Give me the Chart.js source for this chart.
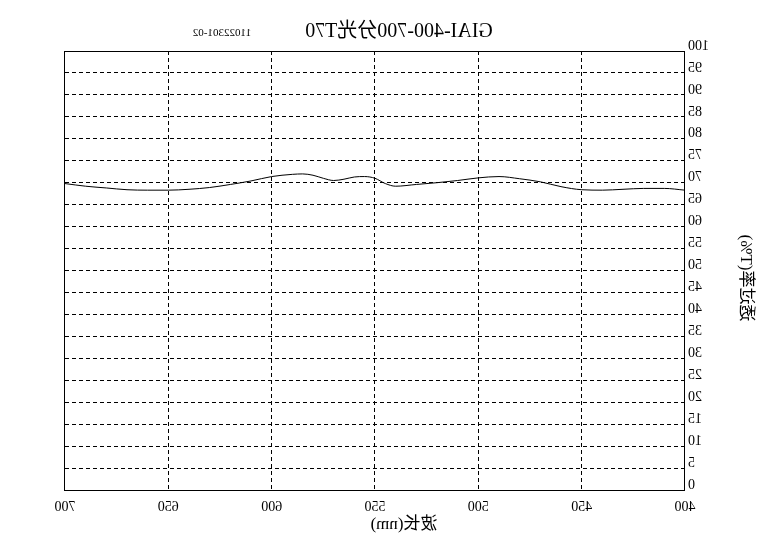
<!DOCTYPE html>
<html>
<head>
<meta charset="utf-8">
<script src="https://cdn.jsdelivr.net/npm/chart.js@4"></script>
<style>
  html, body { margin: 0; padding: 0; background: #fff; }
  #wrap { position: relative; width: 778px; height: 547px; }
  /* the reference picture is mirrored left-right */
  #spectrum { transform: scaleX(-1); }
</style>
</head>
<body>
<div id="wrap"><canvas id="spectrum"></canvas></div>
<script>
// wavelength (nm) and transmittance (T%)
const wavelengths = [400, 410, 420, 430, 440, 450, 460, 470, 480, 490, 500, 510, 520, 530, 540, 545, 550, 555, 560, 565, 570, 575, 580, 585, 590, 600, 610, 620, 630, 640, 650, 660, 670, 680, 690, 700];
const transmittance = [68.3, 68.7, 68.7, 68.5, 68.3, 68.4, 69.1, 70.2, 70.9, 71.4, 71.1, 70.5, 70.0, 69.6, 69.2, 69.8, 71.0, 71.4, 71.3, 70.8, 70.5, 71.0, 71.7, 72.0, 71.9, 71.4, 70.4, 69.6, 68.9, 68.5, 68.3, 68.3, 68.4, 68.8, 69.2, 69.8];
const xTicks = [400, 450, 500, 550, 600, 650, 700];
const yTicks = [0, 5, 10, 15, 20, 25, 30, 35, 40, 45, 50, 55, 60, 65, 70, 75, 80, 85, 90, 95, 100];

const chartTitle = 'GIAI-400-700分光T70';
const batchNo = '11022301-02';
const xTitle = '波长(nm)';
const yTitle = '透过率(T%)';

const serif = '"Liberation Serif", "Times New Roman", "Noto Sans CJK SC", serif';

const frameAndText = {
    id: 'frameAndText',
    afterDraw(chart) {
        const { ctx, chartArea: a } = chart;
        ctx.save();
        ctx.strokeStyle = '#000';
        ctx.lineWidth = 1;
        ctx.setLineDash([]);
        ctx.strokeRect(a.left + 0.5, a.top + 0.5, a.right - a.left, a.bottom - a.top);

        ctx.fillStyle = '#000';
        ctx.textAlign = 'center';
        ctx.textBaseline = 'middle';
        ctx.font = '20px ' + serif;
        ctx.fillText(chartTitle, 379, 32);
        ctx.font = '11px ' + serif;
        ctx.fillText(batchNo, 556, 33);
        ctx.font = '17px ' + serif;
        ctx.fillText(xTitle, 374, 525);

        ctx.translate(33, 278);
        ctx.rotate(-Math.PI / 2);
        ctx.fillText(yTitle, 0, 0);
        ctx.restore();
    }
};

new Chart(document.getElementById('spectrum'), {
    type: 'line',
    data: {
        datasets: [{
            label: 'T%',
            data: wavelengths.map((w, i) => ({ x: w, y: transmittance[i] })),
            borderColor: '#000',
            borderWidth: 1,
            pointRadius: 0,
            cubicInterpolationMode: 'monotone',
            fill: false
        }]
    },
    options: {
        responsive: true,
        maintainAspectRatio: false,
        animation: false,
        layout: { padding: { top: 51, right: 65, left: 0, bottom: 0 } },
        plugins: {
            legend: { display: false },
            title: { display: false },
            tooltip: { enabled: false }
        },
        scales: {
            x: {
                type: 'linear',
                min: 400,
                max: 700,
                afterBuildTicks: scale => { scale.ticks = xTicks.map(v => ({ value: v })); },
                afterFit: scale => { scale.height = 57; },
                grid: { color: '#000', lineWidth: 1, drawTicks: false },
                border: { display: false, dash: [4, 3] },
                ticks: { color: '#000', padding: 9, maxRotation: 0, font: { family: serif, size: 14 } }
            },
            y: {
                min: 0,
                max: 100,
                afterBuildTicks: scale => { scale.ticks = yTicks.map(v => ({ value: v })); },
                afterFit: scale => { scale.width = 93; },
                grid: { color: '#000', lineWidth: 1, drawTicks: false },
                border: { display: false, dash: [4, 3] },
                ticks: { color: '#000', padding: 3, labelOffset: -5, font: { family: serif, size: 14 } }
            }
        }
    },
    plugins: [frameAndText]
});
</script>
</body>
</html>
